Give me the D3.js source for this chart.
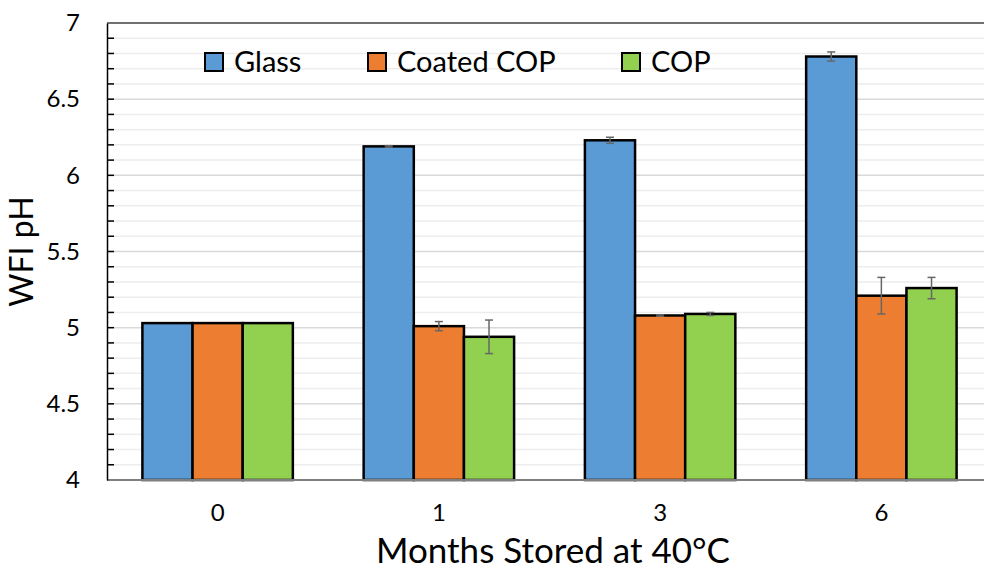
<!DOCTYPE html>
<html>
<head>
<meta charset="utf-8">
<script src="https://cdn.jsdelivr.net/npm/d3@7"></script>
<style>
  body { margin: 0; background: #fff; }
  text { font-family: Lato, "Open Sans", sans-serif; fill: #000; }
</style>
</head>
<body>
<div id="chart"></div>
<script>
const months = ["0", "1", "3", "6"];
const series = ["Glass", "Coated COP", "COP"];
const colors = ["#5B9BD5", "#ED7D31", "#92D050"];
const glass = [5.03, 6.19, 6.23, 6.78];
const coatedCop = [5.03, 5.01, 5.08, 5.21];
const cop = [5.03, 4.94, 5.09, 5.26];
const glassErr = [0, 0.005, 0.02, 0.03];
const coatedCopErr = [0, 0.03, 0.005, 0.12];
const copErr = [0, 0.11, 0.01, 0.07];
const yTicks = [4, 4.5, 5, 5.5, 6, 6.5, 7];

const values = [glass, coatedCop, cop];
const errs = [glassErr, coatedCopErr, copErr];

const width = 984, height = 569;
const margin = { left: 107, right: -8, top: 23, bottom: 89 };

const svg = d3.select("#chart").append("svg")
    .attr("width", width)
    .attr("height", height);

const x = d3.scaleBand()
    .domain(months)
    .range([margin.left, width - margin.right]);

const inner = d3.scaleBand()
    .domain(series)
    .range([0, x.bandwidth() * 0.68]);

const y = d3.scaleLinear()
    .domain([4, 7])
    .range([height - margin.bottom, margin.top]);

// grid
const minor = d3.range(41, 70).map(d => d / 10);
svg.append("g").selectAll("line")
    .data(minor)
    .enter().append("line")
    .attr("x1", margin.left).attr("x2", width)
    .attr("y1", d => y(d)).attr("y2", d => y(d))
    .attr("stroke", d => Math.abs(d * 2 - Math.round(d * 2)) < 1e-6 ? "#d9d9d9" : "#ededed")
    .attr("stroke-width", 1.5);

// top border
svg.append("line")
    .attr("x1", margin.left).attr("x2", width)
    .attr("y1", y(7)).attr("y2", y(7))
    .attr("stroke", "#404040").attr("stroke-width", 1.5);

// bars
const groups = svg.append("g").selectAll("g")
    .data(months)
    .enter().append("g")
    .attr("transform", d => "translate(" + (x(d) + x.bandwidth() * 0.16) + ",0)");

groups.selectAll("rect")
    .data((d, i) => series.map((s, j) => ({ s: s, j: j, v: values[j][i], e: errs[j][i] })))
    .enter().append("rect")
    .attr("x", d => inner(d.s))
    .attr("width", inner.bandwidth())
    .attr("y", d => y(d.v))
    .attr("height", d => y(4) - y(d.v))
    .attr("fill", d => colors[d.j])
    .attr("stroke", "#000")
    .attr("stroke-width", 2.5);

// error bars
const eb = groups.selectAll("g.err")
    .data((d, i) => series.map((s, j) => ({ s: s, v: values[j][i], e: errs[j][i] })).filter(d => d.e > 0))
    .enter().append("g").attr("class", "err")
    .attr("stroke", "#666").attr("stroke-width", 1.5);
eb.append("line")
    .attr("x1", d => inner(d.s) + inner.bandwidth() / 2)
    .attr("x2", d => inner(d.s) + inner.bandwidth() / 2)
    .attr("y1", d => y(d.v + d.e)).attr("y2", d => y(d.v - d.e));
eb.append("line")
    .attr("x1", d => inner(d.s) + inner.bandwidth() / 2 - 4)
    .attr("x2", d => inner(d.s) + inner.bandwidth() / 2 + 4)
    .attr("y1", d => y(d.v + d.e)).attr("y2", d => y(d.v + d.e));
eb.append("line")
    .attr("x1", d => inner(d.s) + inner.bandwidth() / 2 - 4)
    .attr("x2", d => inner(d.s) + inner.bandwidth() / 2 + 4)
    .attr("y1", d => y(d.v - d.e)).attr("y2", d => y(d.v - d.e));

// x axis
svg.append("line")
    .attr("x1", margin.left).attr("x2", width)
    .attr("y1", y(4)).attr("y2", y(4))
    .attr("stroke", "#7f7f7f").attr("stroke-width", 2);

const xAxis = svg.append("g")
    .attr("transform", "translate(0," + y(4) + ")")
    .call(d3.axisBottom(x).tickSize(0).tickPadding(24));
xAxis.select(".domain").remove();
xAxis.selectAll("text").style("font-size", "24px").attr("font-family", null);

// y axis
const yAxis = svg.append("g")
    .attr("transform", "translate(" + margin.left + ",0)")
    .call(d3.axisLeft(y).tickValues(yTicks).tickFormat(d3.format("")).tickSize(0).tickPadding(27));
yAxis.select(".domain").attr("stroke", "#000").attr("stroke-width", 1.5);
yAxis.selectAll("text").style("font-size", "24px").attr("font-family", null);

svg.append("g").selectAll("line")
    .data(minor)
    .enter().append("line")
    .attr("x1", margin.left).attr("x2", margin.left + 7)
    .attr("y1", d => y(d)).attr("y2", d => y(d))
    .attr("stroke", "#000").attr("stroke-width", 1.5);

// titles
svg.append("text")
    .attr("x", 553)
    .attr("y", 563)
    .attr("text-anchor", "middle")
    .style("font-size", "35px")
    .text("Months Stored at 40°C");

svg.append("text")
    .attr("transform", "translate(33," + (y(5.5)) + ") rotate(-90)")
    .attr("text-anchor", "middle")
    .style("font-size", "32px")
    .text("WFI pH");

// legend
const legendX = [205, 368, 622];
const legend = svg.append("g").selectAll("g")
    .data(series)
    .enter().append("g")
    .attr("transform", (d, i) => "translate(" + legendX[i] + ",53)");
legend.append("rect")
    .attr("width", 18).attr("height", 18)
    .attr("fill", (d, i) => colors[i])
    .attr("stroke", "#000").attr("stroke-width", 2);
legend.append("text")
    .attr("x", 29).attr("y", 19)
    .style("font-size", "29px")
    .text(d => d);
</script>
</body>
</html>
